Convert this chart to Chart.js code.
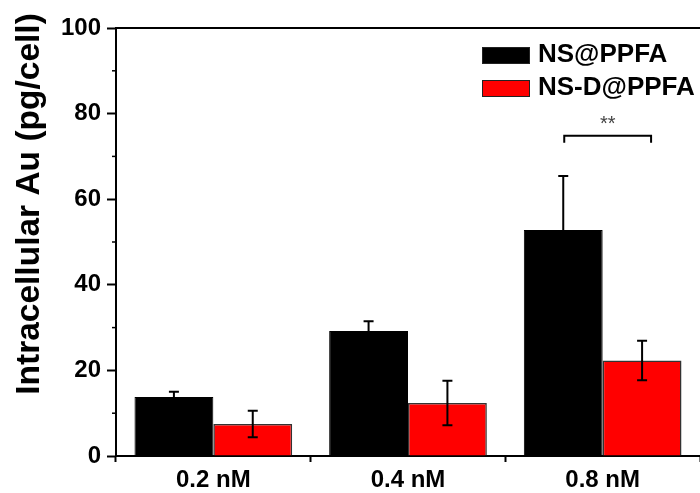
<!DOCTYPE html>
<html>
<head>
<meta charset="utf-8">
<script src="https://cdn.jsdelivr.net/npm/chart.js@4"></script>
<style>
  html, body { margin: 0; padding: 0; background: #fff; overflow: hidden; }
</style>
</head>
<body>
<canvas id="auChart" width="700" height="493"></canvas>
<script>
const categories = ["0.2 nM", "0.4 nM", "0.8 nM"];
const nsValues = [13.8, 29.2, 52.8];
const nsErrors = [1.2, 2.3, 12.6];
const nsdValues = [7.5, 12.4, 22.3];
const nsdErrors = [3.1, 5.2, 4.6];
const minorTicks = [10, 30, 50, 70, 90];
// significance bracket over the 0.8 nM group
const sigGroup = 2;
const sigLevel = 74.8;
const sigLabel = "**";
const yTitle = "Intracellular Au (pg/cell)";

const FONT = "'Liberation Sans', Arial, sans-serif";

// error bars, frame line, minor ticks, axis title, legend, bracket
const extras = {
  id: "extras",
  afterDatasetsDraw(chart) {
    const { ctx, chartArea: a, scales: { y } } = chart;
    const errs = [nsErrors, nsdErrors];
    ctx.save();
    ctx.strokeStyle = "#000";
    ctx.lineWidth = 2;

    chart.data.datasets.forEach((ds, di) => {
      chart.getDatasetMeta(di).data.forEach((bar, i) => {
        const v = ds.data[i], e = errs[di][i];
        const top = y.getPixelForValue(v + e);
        const bot = y.getPixelForValue(v - e);
        ctx.beginPath();
        ctx.moveTo(bar.x, top); ctx.lineTo(bar.x, bot);
        ctx.moveTo(bar.x - 5, top); ctx.lineTo(bar.x + 5, top);
        ctx.moveTo(bar.x - 5, bot); ctx.lineTo(bar.x + 5, bot);
        ctx.stroke();
      });
    });

    // top frame
    ctx.beginPath();
    ctx.moveTo(a.left, a.top); ctx.lineTo(a.right, a.top);
    ctx.stroke();

    // minor ticks on y
    ctx.lineWidth = 1.5;
    minorTicks.forEach(t => {
      const py = y.getPixelForValue(t);
      ctx.beginPath();
      ctx.moveTo(a.left - 4, py); ctx.lineTo(a.left, py);
      ctx.stroke();
    });

    // y title, sits a bit above the plot centre like the original
    ctx.save();
    ctx.translate(30, 204);
    ctx.rotate(-Math.PI / 2);
    ctx.fillStyle = "#000";
    ctx.font = "bold 33.5px " + FONT;
    ctx.textAlign = "center";
    ctx.textBaseline = "middle";
    ctx.fillText(yTitle, 0, 0);
    ctx.restore();

    // bracket
    const b1 = chart.getDatasetMeta(0).data[sigGroup];
    const b2 = chart.getDatasetMeta(1).data[sigGroup];
    const by = y.getPixelForValue(sigLevel);
    const x1 = b1.x + 1, x2 = b2.x + 9;
    ctx.lineWidth = 2;
    ctx.beginPath();
    ctx.moveTo(x1, by + 7); ctx.lineTo(x1, by); ctx.lineTo(x2, by); ctx.lineTo(x2, by + 7);
    ctx.stroke();
    ctx.fillStyle = "#444";
    ctx.font = "20px " + FONT;
    ctx.textAlign = "center";
    ctx.textBaseline = "alphabetic";
    ctx.fillText(sigLabel, (x1 + x2) / 2, by - 6);

    // legend
    ctx.font = "bold 26px " + FONT;
    ctx.textAlign = "left";
    chart.data.datasets.forEach((ds, di) => {
      const ly = 47 + di * 33;
      ctx.fillStyle = ds.backgroundColor;
      ctx.fillRect(482, ly, 48, 17);
      ctx.lineWidth = 1;
      ctx.strokeStyle = "#222";
      ctx.strokeRect(482.5, ly + 0.5, 47, 16);
      ctx.fillStyle = "#000";
      ctx.fillText(ds.label, 538, ly + 15);
    });
    ctx.restore();
  }
};

new Chart(document.getElementById("auChart"), {
  type: "bar",
  data: {
    labels: categories,
    datasets: [
      {
        label: "NS@PPFA",
        data: nsValues,
        backgroundColor: "#000000",
        borderColor: "#000000",
        borderWidth: 1,
      },
      {
        label: "NS-D@PPFA",
        data: nsdValues,
        backgroundColor: "#ff0000",
        borderColor: "#333333",
        borderWidth: 1.5,
      },
    ],
  },
  options: {
    responsive: false,
    animation: false,
    devicePixelRatio: 1,
    layout: { padding: { top: 28, left: 0, right: 0, bottom: 0 } },
    datasets: { bar: { categoryPercentage: 0.81, barPercentage: 1.0 } },
    plugins: {
      legend: { display: false },
      tooltip: { enabled: false },
    },
    scales: {
      x: {
        grid: {
          drawOnChartArea: false,
          tickLength: 6,
          tickWidth: 2,
          color: "#000",
        },
        border: { color: "#000", width: 2 },
        ticks: {
          color: "#000",
          padding: 4,
          font: { family: FONT, size: 24, weight: "bold" },
        },
        afterFit(scale) { scale.height = 37; },
      },
      y: {
        min: 0,
        max: 100,
        grid: {
          drawOnChartArea: false,
          tickLength: 9,
          tickWidth: 2,
          color: "#000",
        },
        border: { color: "#000", width: 2 },
        ticks: {
          stepSize: 20,
          color: "#000",
          padding: 6,
          font: { family: FONT, size: 24, weight: "bold" },
        },
        afterFit(scale) { scale.width = 116; },
      },
    },
  },
  plugins: [extras],
});
</script>
</body>
</html>
